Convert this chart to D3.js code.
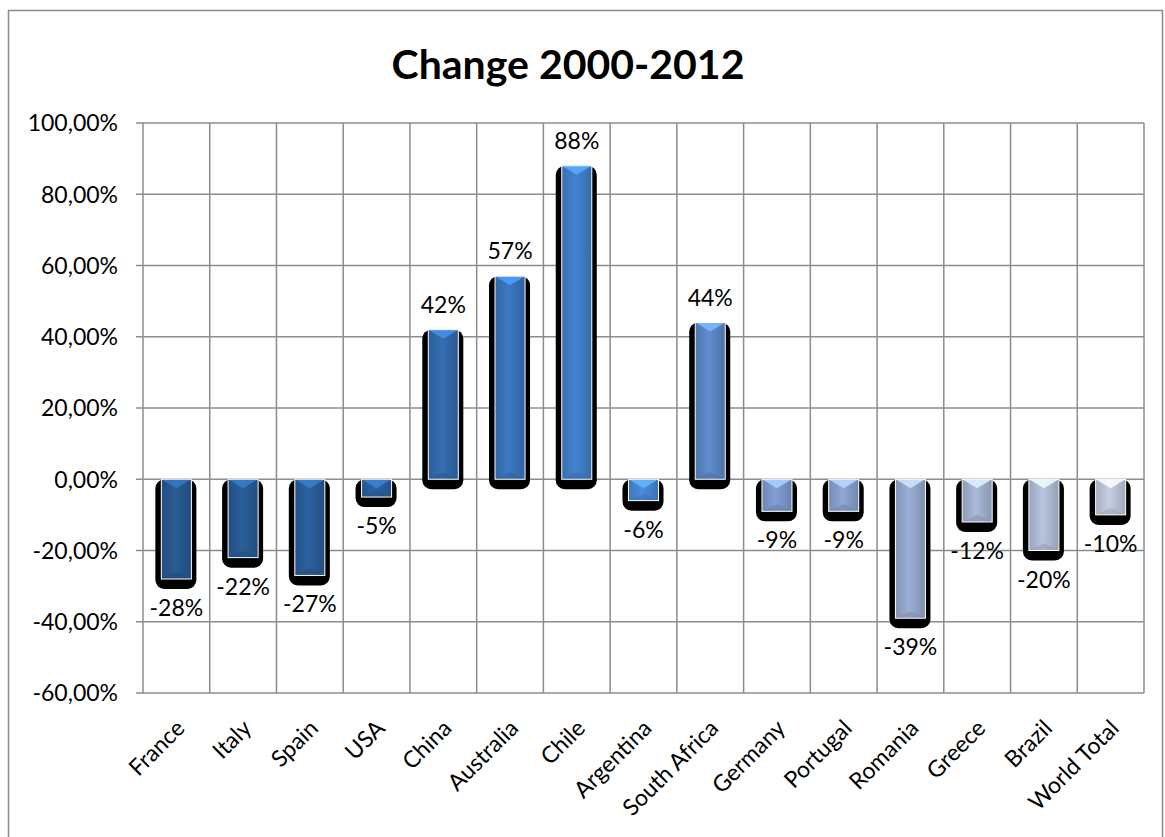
<!DOCTYPE html>
<html>
<head>
<meta charset="utf-8">
<script src="https://cdn.jsdelivr.net/npm/d3@7"></script>
<style>
  body { margin: 0; background: #fff; }
  text { font-family: Lato, "Open Sans", sans-serif; fill: #000; }
</style>
</head>
<body>
<svg id="chart" width="1165" height="837"></svg>
<script>
// values (percent change 2000-2012)
const countries = ["France", "Italy", "Spain", "USA", "China", "Australia", "Chile",
  "Argentina", "South Africa", "Germany", "Portugal", "Romania", "Greece", "Brazil", "World Total"];
const changes = [-28, -22, -27, -5, 42, 57, 88, -6, 44, -9, -9, -39, -12, -20, -10];
const yTicks = [-60, -40, -20, 0, 20, 40, 60, 80, 100];
const title = "Change 2000-2012";

let width = 1165, height = 837;
let margin = {left: 143, right: 21, top: 123, bottom: 144};

let svg = d3.select("#chart");

// outer chart frame
svg.append("rect")
    .attr("x", 8.5).attr("y", 10.5)
    .attr("width", 1154).attr("height", 850)
    .attr("fill", "#fff").attr("stroke", "#8c8c8c").attr("stroke-width", 1.5);

let x = d3.scaleBand()
    .domain(countries)
    .range([margin.left, width - margin.right])
    .paddingInner(0.55).paddingOuter(0.275);

let y = d3.scaleLinear()
    .domain([-60, 100])
    .range([height - margin.bottom, margin.top]);

// per-point colours, dark blue -> pale grey-blue
let color = d3.scaleLinear()
    .domain([0, 3, 5, 7, 8, 9, 11, 14])
    .range(["#27578f", "#2b5f9c", "#3973ba", "#4786d4", "#5a86c3", "#7b98ca", "#94a6cb", "#bcc5d8"])
    .interpolate(d3.interpolateRgb);

let defs = svg.append("defs");
countries.forEach((c, i) => {
    let base = d3.color(color(i));
    let g = defs.append("linearGradient").attr("id", "bar" + i)
        .attr("x1", "0").attr("x2", "1").attr("y1", "0").attr("y2", "0");
    g.append("stop").attr("offset", "0%").attr("stop-color", base.darker(0.35));
    g.append("stop").attr("offset", "45%").attr("stop-color", base.brighter(0.15));
    g.append("stop").attr("offset", "100%").attr("stop-color", base.darker(0.45));
});

// gridlines
let grid = svg.append("g").attr("stroke", "#8c8c8c").attr("stroke-width", 1.5);
grid.selectAll("line.h")
    .data(yTicks)
    .join("line")
    .attr("class", "h")
    .attr("x1", margin.left - 7).attr("x2", width - margin.right)
    .attr("y1", d => y(d)).attr("y2", d => y(d));

let step = x.step();
let bounds = d3.range(countries.length + 1).map(i => margin.left + i * step);
grid.selectAll("line.v")
    .data(bounds)
    .join("line")
    .attr("class", "v")
    .attr("x1", d => d).attr("x2", d => d)
    .attr("y1", y(100)).attr("y2", y(-60));

// y axis labels (comma decimal, plain hyphen for minus)
let fmt = d3.formatLocale({decimal: ",", thousands: ".", grouping: [3], currency: ["", ""], minus: "-"}).format(".2f");
svg.append("g").selectAll("text")
    .data(yTicks)
    .join("text")
    .attr("x", 118).attr("y", d => y(d))
    .attr("dy", "0.36em")
    .attr("text-anchor", "end")
    .style("font-size", "23px")
    .text(d => fmt(d) + "%");

// bars
let bars = svg.append("g").selectAll("g")
    .data(changes)
    .join("g")
    .attr("transform", (d, i) => `translate(${x(countries[i])},0)`);

let bw = x.bandwidth();
function barTop(d) { return Math.min(y(d), y(0)); }
function barH(d) { return Math.abs(y(d) - y(0)); }

// dark shadow behind each bar
bars.append("rect")
    .attr("x", -6).attr("y", d => barTop(d))
    .attr("width", bw + 11).attr("height", d => barH(d) + 10)
    .attr("rx", 9).attr("ry", 9)
    .attr("fill", "#000");

bars.append("rect")
    .attr("x", 0).attr("y", d => barTop(d))
    .attr("width", bw).attr("height", d => barH(d))
    .attr("fill", (d, i) => `url(#bar${i})`);

// bevel: light chevron on top, darker chevron on bottom
bars.append("polygon")
    .attr("points", d => {
        let t = barTop(d), b = Math.min(9, barH(d) / 2);
        return [[0, t], [bw, t], [bw / 2, t + b]].join(" ");
    })
    .attr("fill", (d, i) => d3.color(color(i)).brighter(0.9))
    .attr("opacity", 0.85);

bars.append("polygon")
    .attr("points", d => {
        let t = barTop(d) + barH(d), b = Math.min(7, barH(d) / 2);
        return [[0, t], [bw, t], [bw / 2, t - b]].join(" ");
    })
    .attr("fill", (d, i) => d3.color(color(i)).darker(0.6))
    .attr("opacity", 0.5);

bars.append("rect")
    .attr("x", 0).attr("y", d => barTop(d))
    .attr("width", bw).attr("height", d => barH(d))
    .attr("fill", "none").attr("stroke", "#fff").attr("stroke-width", 1);

// data labels
bars.append("text")
    .attr("x", bw / 2)
    .attr("y", d => d >= 0 ? y(d) - 17 : y(d) + 37)
    .attr("text-anchor", "middle")
    .style("font-size", "23px")
    .text(d => d + "%");

// category labels
svg.append("g").selectAll("text")
    .data(countries)
    .join("text")
    .attr("transform", d => `translate(${x(d) + bw / 2 + 4},${y(-60) + 31}) rotate(-45)`)
    .attr("text-anchor", "end")
    .attr("dy", "0.35em")
    .style("font-size", "23px")
    .text(d => d);

// title
svg.append("text")
    .attr("x", 568).attr("y", 79)
    .attr("text-anchor", "middle")
    .style("font-size", "41px")
    .style("font-weight", "bold")
    .text(title);
</script>
</body>
</html>
